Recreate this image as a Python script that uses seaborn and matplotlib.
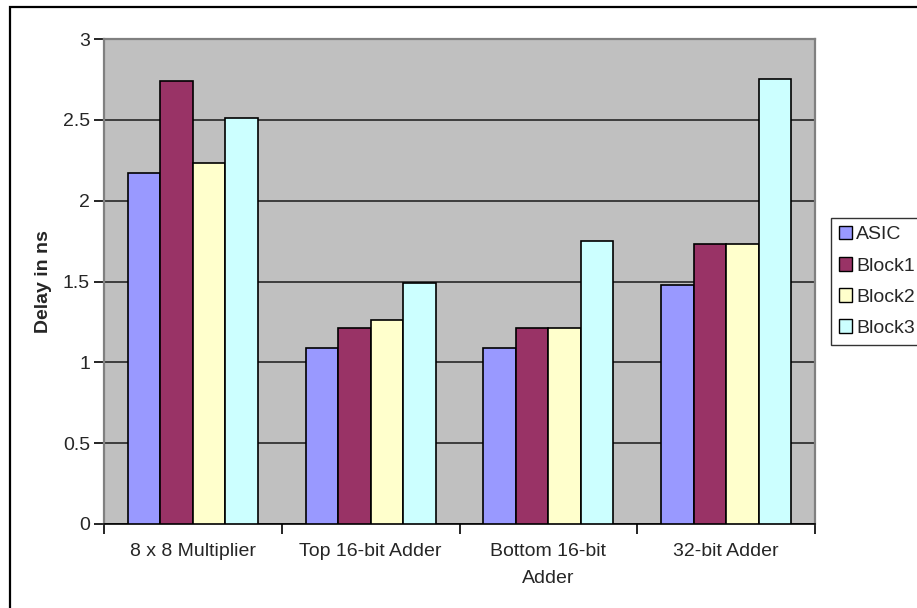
import matplotlib
matplotlib.use("Agg")
import matplotlib.pyplot as plt
import matplotlib.patches as mpatches
import seaborn as sns
import pandas as pd
import numpy as np

# Delay (ns) per design block
categories = ["8 x 8 Multiplier", "Top 16-bit Adder", "Bottom 16-bit\nAdder", "32-bit Adder"]
series = ["ASIC", "Block1", "Block2", "Block3"]
asic = [2.17, 1.09, 1.09, 1.48]
block1 = [2.74, 1.21, 1.21, 1.73]
block2 = [2.23, 1.26, 1.21, 1.73]
block3 = [2.51, 1.49, 1.75, 2.75]
y_ticks = [0, 0.5, 1, 1.5, 2, 2.5, 3]
y_tick_labels = ["0", "0.5", "1", "1.5", "2", "2.5", "3"]
palette = ["#9999FF", "#993366", "#FFFFCC", "#CCFFFF"]

values = {"ASIC": asic, "Block1": block1, "Block2": block2, "Block3": block3}
df = pd.DataFrame(
    [(c, s, values[s][i]) for s in series for i, c in enumerate(categories)],
    columns=["Design", "Series", "Delay"],
)

sns.set_theme(style="white")
plt.rcParams["font.family"] = ["Liberation Sans", "DejaVu Sans"]

fig = plt.figure(figsize=(9.17, 6.08), dpi=100)
ax = fig.add_axes([104 / 917, 1 - 524 / 608, (815 - 104) / 917, (524 - 39) / 608])
ax.set_facecolor("#C0C0C0")

sns.barplot(
    data=df, x="Design", y="Delay", hue="Series", order=categories,
    hue_order=series, palette=palette, width=0.73, saturation=1,
    edgecolor="black", linewidth=1.2, ax=ax, zorder=3, legend=True,
)

ax.set_ylim(0, 3)
ax.set_xlim(-0.5, len(categories) - 0.5)
ax.set_yticks(y_ticks)
ax.set_yticklabels(y_tick_labels)
ax.yaxis.grid(True, color="#1a1a1a", linewidth=1.1, zorder=0)
ax.set_axisbelow(True)

# category labels at centres, tick marks at group boundaries
ax.set_xticks(np.arange(len(categories)))
ax.set_xticklabels(categories, fontsize=14, linespacing=1.75)
ax.set_xticks(np.arange(len(categories) + 1) - 0.5, minor=True)
ax.tick_params(axis="x", which="major", length=0, pad=14)
ax.tick_params(axis="x", which="minor", length=7, width=1.2, color="black", direction="out")
ax.tick_params(axis="y", length=7, width=1.2, color="black", direction="out", labelsize=14, pad=3)
ax.tick_params(bottom=True, left=True, which="both")

ax.set_xlabel("")
ax.set_ylabel("Delay in ns", fontsize=14, fontweight="bold", labelpad=8)

for side in ["top", "right", "left"]:
    ax.spines[side].set_color("#808080")
    ax.spines[side].set_linewidth(1.6)
ax.spines["bottom"].set_color("black")
ax.spines["bottom"].set_linewidth(1.2)

handles, labels = ax.get_legend_handles_labels()
ax.legend_.remove()
leg = fig.legend(
    handles, labels, loc="upper left", bbox_to_anchor=(831 / 917, 1 - 218 / 608),
    bbox_transform=fig.transFigure, frameon=True, fancybox=False, fontsize=14,
    handlelength=0.7, handleheight=0.7, handletextpad=0.2, labelspacing=0.7,
    borderpad=0.4, borderaxespad=0,
)
leg.get_frame().set_edgecolor("black")
leg.get_frame().set_linewidth(1.0)
for h in leg.legend_handles:
    h.set_edgecolor("black")
    h.set_linewidth(1.0)

# outer chart border
fig.patches.append(mpatches.Rectangle(
    (10 / 917, -0.1), 1.2, 1.1 - 7 / 608, transform=fig.transFigure,
    fill=False, edgecolor="black", linewidth=1.6, zorder=10,
))

fig.savefig("out.png", dpi=100)
